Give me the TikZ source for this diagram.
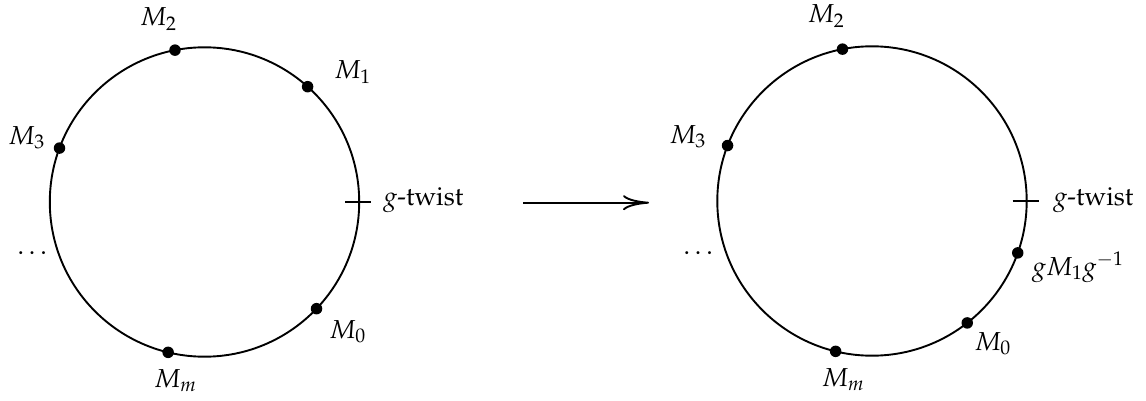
\documentclass[tikz,border=0pt]{standalone}
\usepackage[T1]{fontenc}
\usepackage{mathpazo}
\usetikzlibrary{arrows.meta}
\newcommand{\twistlabel}{$g$-twist}
\begin{document}
\begin{tikzpicture}[x=1pt,y=-1pt,
  ring/.style={line width=1.9pt},
  pt/.style={circle,fill=black,inner sep=0pt,minimum size=11.5pt},
  lab/.style={inner sep=0pt,anchor=base west,font=\fontsize{26}{31}\selectfont},
  tickmark/.style={line width=1.9pt}]
\useasboundingbox (0,0) rectangle (1146,401);
% left circle
\coordinate (cL) at (204.5,202);
\draw[ring] (cL) circle[radius=154.7];
\path (cL) ++(101:154.7 and -154.7) node[pt] (l2) {};
\path (cL) ++(48.2:154.7 and -154.7) node[pt] (l1) {};
\path (cL) ++(159.6:154.7 and -154.7) node[pt] (l3) {};
\path (cL) ++(-43.6:154.7 and -154.7) node[pt] (l0) {};
\path (cL) ++(-103.6:154.7 and -154.7) node[pt] (lm) {};
\path (cL) ++(0:154.7 and -154.7) coordinate (lt);
\draw[tickmark] ([xshift=-14pt]lt) -- ([xshift=12pt]lt);
\node[lab] (tL2) at (140,26) {$M_2$};
\node[lab] (tL1) at (334.3,79) {$M_1$};
\node[lab] (tL3) at (8.3,144.3) {$M_3$};
\node[lab] (tLd) at (17,254) {$\ldots$};
\node[lab] (tL0) at (329.3,338.3) {$M_0$};
\node[lab] (tLm) at (154,387.7) {$M_m$};
\node[lab] (tLt) at (383,205) {\twistlabel};
% arrow
\coordinate (a1) at (523,202.7);
\coordinate (a2) at (649,202.7);
\draw[line width=1.9pt,-{Computer Modern Rightarrow[length=26pt,width=15pt]}] (a1) -- (a2);
% right circle
\coordinate (cR) at (872,201);
\draw[ring] (cR) circle[radius=154.7];
\path (cR) ++(101:154.7 and -154.7) node[pt] (r2) {};
\path (cR) ++(159:154.7 and -154.7) node[pt] (r3) {};
\path (cR) ++(-19.6:154.7 and -154.7) node[pt] (r1) {};
\path (cR) ++(-52:154.7 and -154.7) node[pt] (r0) {};
\path (cR) ++(-103.6:154.7 and -154.7) node[pt] (rm) {};
\path (cR) ++(0:154.7 and -154.7) coordinate (rt);
\draw[tickmark] ([xshift=-14pt]rt) -- ([xshift=12pt]rt);
\node[lab] (tR2) at (807.7,22.7) {$M_2$};
\node[lab] (tR3) at (669.3,143.3) {$M_3$};
\node[lab] (tRd) at (683,254) {$\ldots$};
\node[lab] (tR1) at (1031.7,275) {$gM_1g^{-1}$};
\node[lab] (tR0) at (974.3,350) {$M_0$};
\node[lab] (tRm) at (821.7,386.7) {$M_m$};
\node[lab] (tRt) at (1053,205) {\twistlabel};
\end{tikzpicture}
\end{document}
